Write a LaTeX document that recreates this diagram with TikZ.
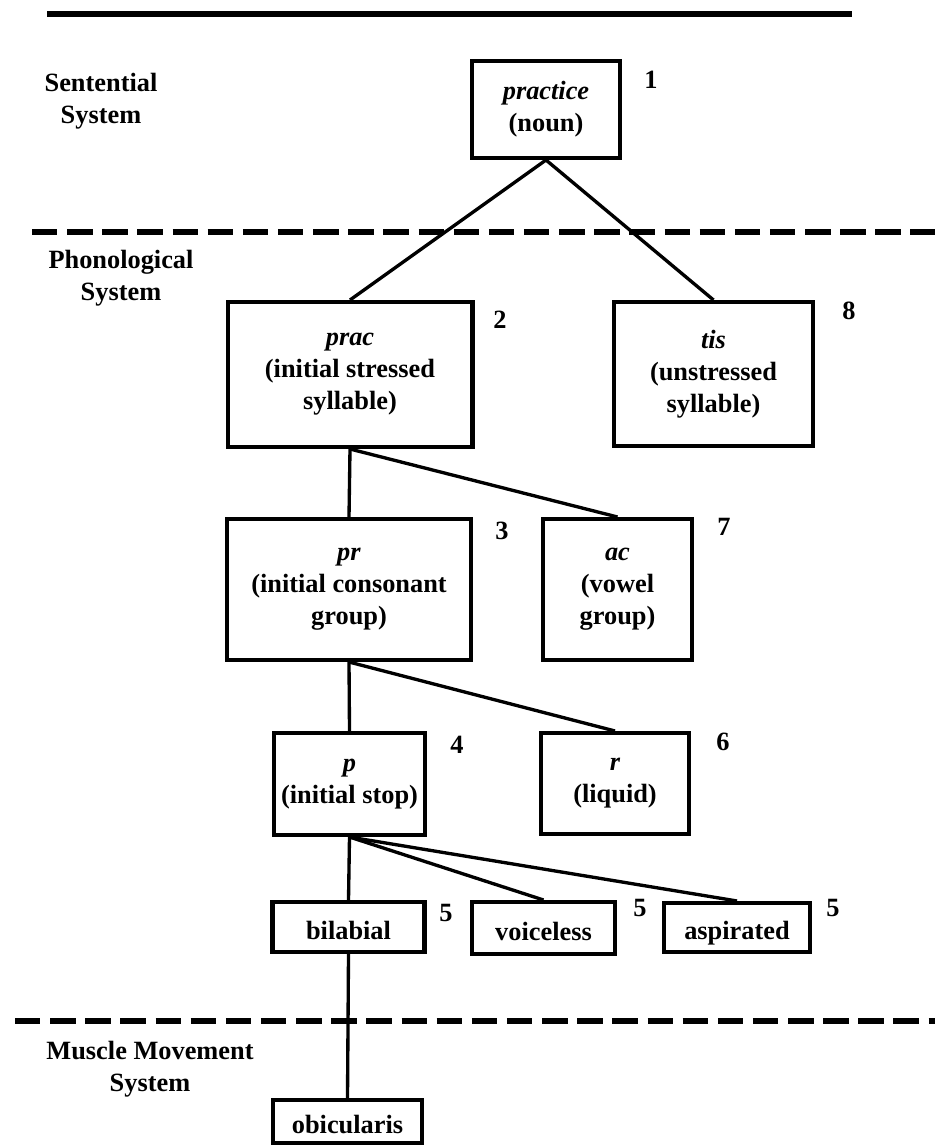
\documentclass[tikz,border=0pt]{standalone}
\usepackage{fontspec}
\setmainfont{Liberation Serif}
\usepackage{tikz}

\begin{document}
\begin{tikzpicture}[x=0.02cm, y=-0.02cm,
    every node/.style={font=\fontsize{15}{18.2}\selectfont\bfseries},
    unit/.style={draw, line width=2.3pt, align=center, inner sep=0pt},
    feature/.style={unit, text height=14pt, text depth=0pt},
    sysname/.style={align=center},
    link/.style={line width=1.9pt},
    divide/.style={line width=3pt, dash pattern=on 14.5pt off 5.5pt}]
      \useasboundingbox (0,0) rectangle (935,1145);

      \draw[line width=3pt] (47,14) -- (852,14);
      \draw[divide] (32,232) -- (935,232);
      \draw[divide] (15,1021) -- (935,1021);

      \node[sysname] (sentential) at (101,101) {Sentential\\System};
      \node[sysname] (phonological) at (121,278) {Phonological\\System};
      \node[sysname] (muscle) at (150,1069) {Muscle Movement\\System};

      \node[unit, minimum width=2.96cm, minimum height=1.94cm] (practice) at (546,109.5) {\textit{practice}\\(noun)};
      \node[unit, minimum width=4.9cm, minimum height=2.9cm] (prac) at (350,374.5) {\textit{prac}\\(initial stressed\\syllable)};
      \node[unit, minimum width=3.98cm, minimum height=2.88cm] (tis) at (713.5,374) {\textit{tis}\\(unstressed\\syllable)};
      \node[unit, minimum width=4.88cm, minimum height=2.82cm] (pr) at (349,589.5) {\textit{pr}\\(initial consonant\\group)};
      \node[unit, minimum width=2.98cm, minimum height=2.82cm] (ac) at (617.5,589.5) {\textit{ac}\\(vowel\\group)};
      \node[unit, minimum width=3.02cm, minimum height=2.04cm] (p) at (349.5,784) {\textit{p}\\(initial stop)};
      \node[unit, minimum width=2.96cm, minimum height=2.02cm] (r) at (615,783.5) {\textit{r}\\(liquid)};
      \node[feature, minimum width=3.04cm, minimum height=1cm] (bilabial) at (348.5,927) {bilabial};
      \node[feature, minimum width=2.86cm, minimum height=1.04cm] (voiceless) at (543.5,928) {voiceless};
      \node[feature, minimum width=2.92cm, minimum height=0.98cm] (aspirated) at (737,927.5) {aspirated};
      \node[feature, minimum width=2.98cm, minimum height=0.86cm] (obicularis) at (347.5,1121.5) {obicularis};

      \node (n1) at (651,80) {1};
      \node (n2) at (500,320) {2};
      \node (n8) at (849,311) {8};
      \node (n3) at (502,531) {3};
      \node (n7) at (724,527) {7};
      \node (n4) at (457,745) {4};
      \node (n6) at (723,742) {6};
      \node (n5a) at (446,913) {5};
      \node (n5b) at (640,908) {5};
      \node (n5c) at (833,908) {5};

    \draw[link] (practice.south) -- (prac.north);
    \draw[link] (practice.south) -- (tis.north);
    \draw[link] (prac.south) -- (pr.north);
    \draw[link] (prac.south) -- (ac.north);
    \draw[link] (pr.south) -- (p.north);
    \draw[link] (pr.south) -- (r.north);
    \draw[link] (p.south) -- (bilabial.north);
    \draw[link] (p.south) -- (voiceless.north);
    \draw[link] (p.south) -- (aspirated.north);
    \draw[link] (bilabial.south) -- (obicularis.north);
\end{tikzpicture}
\end{document}
